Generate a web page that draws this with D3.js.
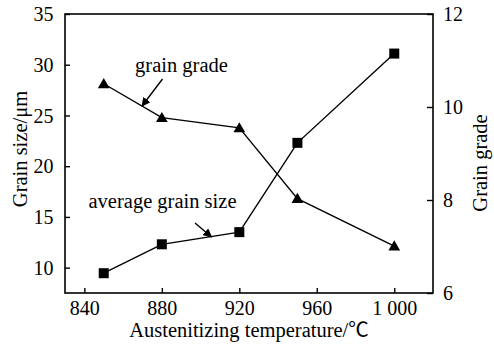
<!DOCTYPE html>
<html>
<head>
<meta charset="utf-8">
<script src="https://cdn.jsdelivr.net/npm/d3@7"></script>
<style>
  html, body { margin: 0; padding: 0; background: #fff; }
  svg { display: block; }
  svg text { font-family: "Times New Roman", "Liberation Serif", serif; fill: #000; }
</style>
</head>
<body>
<svg id="chart" width="494" height="355"></svg>
<script>
// Austenitizing temperature (°C)
const temperatures = [850, 880, 920, 950, 1000];
// Average grain size (μm), left axis
const grainSize = [9.45, 12.3, 13.5, 22.3, 31.1];
// Grain grade, right axis
const grainGrade = [10.5, 9.77, 9.55, 8.03, 7.01];

const xTicks = [840, 880, 920, 960, 1000];
const xTickLabels = ["840", "880", "920", "960", "1 000"];
const leftTicks = [10, 15, 20, 25, 30, 35];
const rightTicks = [6, 8, 10, 12];

const svg = d3.select("#chart");
const m = { left: 65, right: 433, top: 14, bottom: 293 };

const x = d3.scaleLinear().domain([830, 1020]).range([m.left, m.right]);
const yL = d3.scaleLinear().domain([7.5, 35]).range([m.bottom, m.top]);
const yR = d3.scaleLinear().domain([6, 12]).range([m.bottom, m.top]);

const tickFont = 20;
const labelFont = 20.5;

// frame
svg.append("rect")
  .attr("x", m.left).attr("y", m.top)
  .attr("width", m.right - m.left).attr("height", m.bottom - m.top)
  .attr("fill", "none").attr("stroke", "#000").attr("stroke-width", 1.6);

// bottom axis (inward ticks)
const xAxis = svg.append("g").attr("transform", `translate(0,${m.bottom})`)
  .call(d3.axisBottom(x).tickValues(xTicks).tickSizeInner(-5).tickSizeOuter(0)
    .tickFormat((d, i) => xTickLabels[i]));
xAxis.attr("font-family", null).attr("font-size", null);
xAxis.select(".domain").remove();
xAxis.selectAll("line").attr("stroke", "#000").attr("stroke-width", 1.4);
xAxis.selectAll("text").attr("y", 22).attr("dy", 0).attr("font-size", tickFont);

// left axis
const lAxis = svg.append("g").attr("transform", `translate(${m.left},0)`)
  .call(d3.axisLeft(yL).tickValues(leftTicks).tickSizeInner(-5).tickSizeOuter(0));
lAxis.attr("font-family", null).attr("font-size", null);
lAxis.select(".domain").remove();
lAxis.selectAll("line").attr("stroke", "#000").attr("stroke-width", 1.4);
lAxis.selectAll("text").attr("x", -11.5).attr("dy", "0.33em").attr("font-size", tickFont);

// right axis
const rAxis = svg.append("g").attr("transform", `translate(${m.right},0)`)
  .call(d3.axisRight(yR).tickValues(rightTicks).tickFormat(d3.format("d"))
    .tickSizeInner(-6).tickSizeOuter(0));
rAxis.attr("font-family", null).attr("font-size", null);
rAxis.select(".domain").remove();
rAxis.selectAll("line").attr("stroke", "#000").attr("stroke-width", 1.4);
rAxis.selectAll("text").attr("x", 10).attr("dy", "0.33em").attr("font-size", tickFont);

// axis titles
svg.append("text")
  .attr("transform", `translate(27,149) rotate(-90)`)
  .attr("text-anchor", "middle").attr("font-size", labelFont).text("Grain size/μm");
svg.append("text")
  .attr("transform", `translate(487,163) rotate(-90)`)
  .attr("text-anchor", "middle").attr("font-size", labelFont).text("Grain grade");
const xTitle = svg.append("text")
  .attr("x", 249).attr("y", 337)
  .attr("text-anchor", "middle").attr("font-size", labelFont);
xTitle.append("tspan").text("Austenitizing temperature/");
xTitle.append("tspan").attr("style", "font-family: 'Noto Sans CJK SC', serif").text("℃");

// series lines
const sizeLine = d3.line().x((d, i) => x(temperatures[i])).y(d => yL(d));
const gradeLine = d3.line().x((d, i) => x(temperatures[i])).y(d => yR(d));

svg.append("path").datum(grainSize).attr("d", sizeLine)
  .attr("fill", "none").attr("stroke", "#000").attr("stroke-width", 1.4);
svg.append("path").datum(grainGrade).attr("d", gradeLine)
  .attr("fill", "none").attr("stroke", "#000").attr("stroke-width", 1.4);

// square markers
svg.selectAll(".sq").data(grainSize).join("rect")
  .attr("x", (d, i) => x(temperatures[i]) - 5)
  .attr("y", d => yL(d) - 5)
  .attr("width", 10).attr("height", 10).attr("fill", "#000");

// triangle markers
const tri = d3.symbol().type(d3.symbolTriangle).size(60);
svg.selectAll(".tri").data(grainGrade).join("path")
  .attr("d", tri)
  .attr("transform", (d, i) => `translate(${x(temperatures[i])},${yR(d) + 1})`)
  .attr("fill", "#000");

// annotations with arrows
const defs = svg.append("defs");
defs.append("marker").attr("id", "arrow")
  .attr("viewBox", "0 0 10 10").attr("refX", 9).attr("refY", 5)
  .attr("markerWidth", 9).attr("markerHeight", 9).attr("markerUnits", "userSpaceOnUse")
  .attr("orient", "auto")
  .append("path").attr("d", "M0,0 L10,5 L0,10 z").attr("fill", "#000");

svg.append("text").attr("x", 181.5).attr("y", 72)
  .attr("text-anchor", "middle").attr("font-size", labelFont).text("grain grade");
svg.append("line")
  .attr("x1", 162.5).attr("y1", 79).attr("x2", 142).attr("y2", 106)
  .attr("stroke", "#000").attr("stroke-width", 1.4).attr("marker-end", "url(#arrow)");

svg.append("text").attr("x", 162.5).attr("y", 208)
  .attr("text-anchor", "middle").attr("font-size", labelFont).text("average grain size");
svg.append("line")
  .attr("x1", 195).attr("y1", 223).attr("x2", 211.5).attr("y2", 237)
  .attr("stroke", "#000").attr("stroke-width", 1.4).attr("marker-end", "url(#arrow)");
</script>
</body>
</html>
